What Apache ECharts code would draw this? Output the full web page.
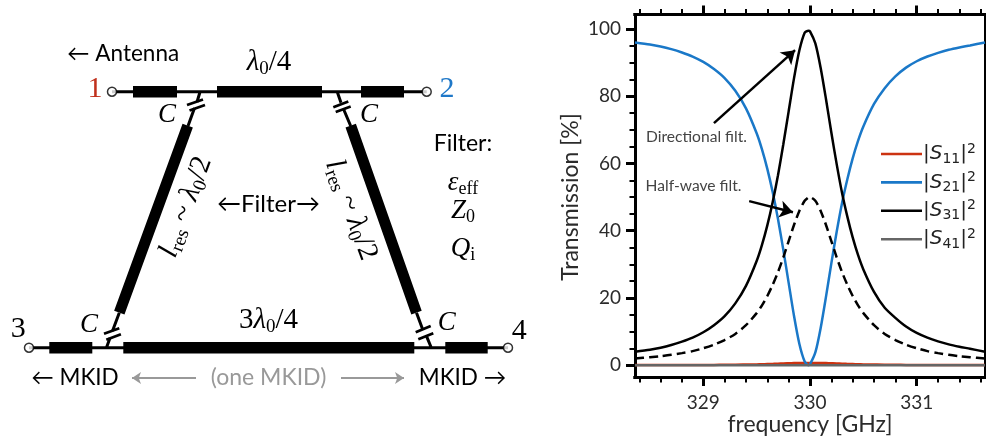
<!DOCTYPE html>
<html><head><meta charset="utf-8">
<style>html,body{margin:0;padding:0;background:#fff}#c{width:986px;height:439px}</style>
<script src="https://cdn.jsdelivr.net/npm/echarts@6/dist/echarts.min.js"></script>
</head><body><div id="c"></div>
<script>
// ---------- transmission data ----------
const frequency = [328.36,328.5,328.6,328.7,328.8,328.9,329,329.1,329.2,329.3,329.4,329.5,329.55,329.6,329.65,329.7,329.75,329.8,329.85,329.9,329.95,329.985,330,330.05,330.1,330.15,330.2,330.25,330.3,330.35,330.4,330.45,330.5,330.6,330.7,330.8,330.9,331,331.1,331.2,331.3,331.4,331.5,331.64];
const s31 = [4.0,4.6,5.2,6.0,7.0,8.2,9.8,11.9,14.6,18.4,23.6,31.0,35.8,41.6,48.5,56.5,65.7,75.5,85.3,93.6,98.9,99.5,99.3,95.7,88.4,79.1,69.2,59.8,51.3,44.2,38.0,32.8,28.5,21.8,17.1,14.1,11.5,9.6,8.2,7.1,6.2,5.5,4.9,4.0];
const s21 = [96.0,95.4,94.8,94.0,93.0,91.8,90.2,88.1,85.4,81.6,76.4,69.0,64.2,58.4,51.5,43.5,34.3,24.5,14.7,6.4,1.1,0.0,0.3,3.8,11.1,20.4,30.3,39.7,48.2,55.3,61.5,66.7,71.0,77.7,82.4,85.9,88.5,90.4,91.8,92.9,93.8,94.5,95.1,96.0];
const s11 = [0.1,0.1,0.1,0.1,0.1,0.1,0.1,0.1,0.15,0.15,0.2,0.25,0.3,0.35,0.4,0.45,0.55,0.6,0.65,0.7,0.7,0.7,0.7,0.7,0.7,0.65,0.6,0.55,0.45,0.4,0.35,0.3,0.25,0.2,0.15,0.15,0.1,0.1,0.1,0.1,0.1,0.1,0.1,0.1];
const s41 = frequency.map(() => 0);
const halfWave = [2.0,2.4,2.7,3.1,3.6,4.2,5.05,6.1,7.5,9.3,11.9,15.5,17.8,20.6,23.9,27.7,32.1,36.9,41.7,45.9,48.9,49.9,50,48.9,45.9,41.7,36.9,32.1,27.7,23.9,20.6,17.8,15.5,11.9,9.3,7.5,6.1,5.05,4.2,3.6,3.1,2.7,2.4,2.0];
const xMajorTicks = [329,330,331];
const xMinorTicks = [328.4,328.6,328.8,329.2,329.4,329.6,329.8,330.2,330.4,330.6,330.8,331.2,331.4,331.6];
const yMajorTicks = [0,20,40,60,80,100];
const yMinorTicks = [5,10,15,25,30,35,45,50,55,65,70,75,85,90,95];
const seriesNames = ['|S11|²','|S21|²','|S31|²','|S41|²'];

// ---------- schematic geometry (page-scaled hidden axes) ----------
const thinLines = [[[112,91.7],[426.7,91.7]],[[29,347.7],[508,347.7]],
  [[200,92],[197,102]],[[194.5,108],[188,126]],
  [[337.3,92],[341,102.7]],[[343.5,109],[350.7,126]],
  [[119.3,312.7],[112.5,331]],[[110,338],[106.7,347]],
  [[416.5,312.7],[422.7,329.5]],[[426.7,336.7],[431,347]]];
const capPlates = [[[187,105],[203,99.5]],[[189.5,110.5],[205,105]],
  [[333.3,107.3],[348.3,101.5]],[[335.7,112],[350.7,106.5]],
  [[104,333.8],[119.3,328.3]],[[106.3,339.8],[120.9,334.3]],
  [[415.7,332.3],[430.7,326]],[[418.3,339.3],[433.3,333.3]]];
const feedSections = [[[133,91.7],[177,91.7]],[[217,91.7],[322,91.7]],[[361,91.7],[404,91.7]],
  [[49.3,347.7],[92.3,347.7]],[[123.3,347.7],[414.3,347.7]],[[445.3,347.7],[487.7,347.7]]];
const resonators = [[[187.7,125.7],[119.3,312.7]],[[350.7,125.7],[416.5,312.7]]];
const ports = [[112,91.7],[426.7,91.7],[29,347.7],[508,347.7]];
const oneMkidArrows = [[[196,378],[132,378]],[[341,378],[404,378]]];
const annotationArrows = [[[329.1,72],[329.86,93.7]],[[329.43,48.8],[329.84,45.5]]];

function segs(list){const out=[];list.forEach((s,i)=>{if(i)out.push(['-','-']);out.push(s[0],s[1]);});return out;}
const zip = (a)=>frequency.map((f,i)=>[f,a[i]]);

const SERIF='"Liberation Serif","Times New Roman",serif', SANS='Lato,sans-serif';
const mathRich=(fs,sub)=>({
  n:{fontFamily:SERIF,fontSize:fs,color:'#000'},
  i:{fontFamily:SERIF,fontSize:fs,fontStyle:'italic',color:'#000'},
  s:{fontFamily:SERIF,fontSize:sub,color:'#000',verticalAlign:'bottom',padding:[fs*0.45,0,0,0]}
});
function txt(x,y,text,font,color,rot){return {type:'text',x,y,rotation:rot||0,silent:true,z:50,
  style:{text,font,fill:color||'#000',textAlign:'center',textVerticalAlign:'middle'}};}
function math(x,y,text,fs,sub,rot){return {type:'text',x,y,rotation:rot||0,silent:true,z:50,
  style:{text,rich:mathRich(fs,sub),textAlign:'center',textVerticalAlign:'middle'}};}
const f=(s,fam)=>s+'px '+(fam||SANS);

const axisBlack={lineStyle:{color:'#000',width:3,cap:'square'}};
const plainX=(pos,ticks,len,w,label)=>({type:'value',gridIndex:0,position:pos,min:328.36,max:331.64,
  axisLine:{show:true,onZero:false,...axisBlack},splitLine:{show:false},
  axisTick:{show:true,length:len,customValues:ticks,lineStyle:{color:'#000',width:w}},
  axisLabel:label?{show:true,customValues:ticks,fontFamily:SANS,fontSize:19,color:'#2b2b2b',margin:16,formatter:v=>String(v)}:{show:false}});
const plainY=(pos,ticks,len,w,label)=>({type:'value',gridIndex:0,position:pos,min:-3.5,max:104.3,
  axisLine:{show:true,onZero:false,...axisBlack},splitLine:{show:false},
  axisTick:{show:len>0,length:len,customValues:ticks,lineStyle:{color:'#000',width:w}},
  axisLabel:label?{show:true,customValues:ticks,fontFamily:SANS,fontSize:19,color:'#2b2b2b',margin:14,formatter:v=>String(v)}:{show:false}});

const line=(name,data,color,width,extra)=>Object.assign({type:'line',name,data:zip(data),showSymbol:false,symbol:'none',smooth:0.25,
  clip:true,lineStyle:{color,width},itemStyle:{color},xAxisIndex:0,yAxisIndex:0,silent:true},extra||{});
const geom=(list,width,color,extra)=>Object.assign({type:'line',data:segs(list),xAxisIndex:4,yAxisIndex:3,showSymbol:false,symbol:'none',
  connectNulls:false,silent:true,lineStyle:{color:color||'#000',width,cap:'butt'},z:5},extra||{});

const option={
  animation:false,backgroundColor:'#fff',
  grid:[{left:635,top:14.5,width:350,height:362.5,containLabel:false},{left:0,top:0,width:986,height:439}],
  xAxis:[plainX('bottom',xMajorTicks,9,3,true),plainX('top',xMajorTicks,9,3,false),plainX('bottom',xMinorTicks,5.5,2,false),plainX('top',xMinorTicks,5.5,2,false),
    {type:'value',gridIndex:1,min:0,max:986,show:false}],
  yAxis:[plainY('left',yMajorTicks,9,3,true),plainY('left',yMinorTicks,5.5,2,false),plainY('right',[],0,0,false),
    {type:'value',gridIndex:1,min:0,max:439,inverse:true,show:false}],
  legend:{data:seriesNames,left:876,top:137,orient:'vertical',icon:'rect',itemWidth:41,itemHeight:2.6,itemGap:4.4,selectedMode:false,
    formatter:n=>{const d=n.match(/\d\d/)[0];return '{p||}{i|S}{b|'+d+'}{t||}{u|2}';},
    textStyle:{rich:{
      p:{fontFamily:'"DejaVu Sans"',fontSize:20,color:'#222',padding:[0,0,0,-4],lineHeight:24},
      t:{fontFamily:'"DejaVu Sans"',fontSize:20,color:'#222',lineHeight:24},
      i:{fontFamily:'"DejaVu Sans"',fontSize:20,fontStyle:'italic',color:'#222',lineHeight:24},
      b:{fontFamily:'"DejaVu Sans"',fontSize:14,color:'#222',verticalAlign:'bottom',lineHeight:14},
      u:{fontFamily:'"DejaVu Sans"',fontSize:14,color:'#222',verticalAlign:'top',lineHeight:14}
    }}},
  series:[
    line(seriesNames[0],s11,'#cc3311',2.5,{z:3}),
    line(seriesNames[1],s21,'#1a78c8',2.5,{z:4}),
    line(seriesNames[2],s31,'#000',2.5,{z:5}),
    line(seriesNames[3],s41,'#666',2.5,{z:6,smooth:false}),
    line('Half-wave',halfWave,'#000',2.5,{z:5,lineStyle:{color:'#000',width:2.5,type:[9,5]},
      markLine:{silent:true,symbol:['none','arrow'],symbolSize:13,label:{show:false},lineStyle:{color:'#000',width:2.5,type:'solid'},
        data:annotationArrows.map(a=>[{coord:a[0]},{coord:a[1]}])}}),
    geom(thinLines,3),
    geom(capPlates,2.8),
    geom(feedSections,11.5),
    geom(resonators,11),
    {type:'scatter',data:ports,xAxisIndex:4,yAxisIndex:3,symbol:'circle',symbolSize:9,silent:true,z:8,
      itemStyle:{color:'#fff',borderColor:'#000',borderWidth:1.5}},
    {type:'line',data:[],xAxisIndex:4,yAxisIndex:3,silent:true,
      markLine:{silent:true,symbol:['none','arrow'],symbolSize:9,label:{show:false},lineStyle:{color:'#999',width:1.8,type:'solid'},
        data:oneMkidArrows.map(a=>[{coord:a[0]},{coord:a[1]}])}}
  ],
  graphic:[
    txt(126,54,'← Antenna ',f(22.5)),
    math(269,62,'{i|λ}{s|0}{n|/4}',29,19),
    txt(95,89,'1',f(30,SERIF),'#c0301c'),
    txt(447,89,'2',f(30,SERIF),'#1f78c8'),
    txt(18.3,329.5,'3',f(30,SERIF)),
    txt(519.3,331,'4',f(30,SERIF)),
    txt(167,115,'C','italic '+f(27,SERIF)),
    txt(369,115,'C','italic '+f(27,SERIF)),
    txt(89,325,'C','italic '+f(27,SERIF)),
    txt(446.7,322.7,'C','italic '+f(27,SERIF)),
    txt(463,144,'Filter:',f(23)),
    math(463,183,'{i|ε}{s|eff}',27,18),
    math(463,211,'{i|Z}{s|0}',27,18),
    math(463,249,'{i|Q}{s|i}',27,18),
    txt(268.5,204,'←Filter→',f(24)),
    math(186,207,'{i|l}{s|res}{n| ~ }{i|λ}{s|0}{n|/2}',29,19,1.22),
    math(351,210,'{i|l}{s|res}{n| ~ }{i|λ}{s|0}{n|/2}',29,19,-1.22),
    math(268.5,320,'{n|3}{i|λ}{s|0}{n|/4}',29,19),
    txt(75,378,'← MKID',f(22.5)),
    txt(268.5,378,'(one MKID)',f(23),'#999'),
    txt(462.5,378,'MKID →',f(22.5)),
    txt(696.5,137,'Directional filt.',f(15.6),'#444'),
    txt(693.5,186,'Half-wave filt.',f(15.6),'#444'),
    txt(810,425,'frequency [GHz]',f(23),'#2b2b2b'),
    txt(571,197,'Transmission [%]',f(23),'#2b2b2b',Math.PI/2)
  ]
};
echarts.init(document.getElementById('c'),null,{renderer:'canvas'}).setOption(option);
</script></body></html>
